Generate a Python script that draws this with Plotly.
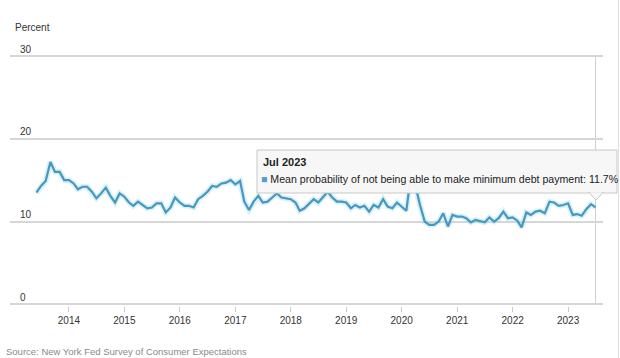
import pandas as pd
import plotly.graph_objects as go

start_month = "2013-06-01"
end_month = "2023-07-01"
values = [
    13.5, 14.3, 14.9, 17.2, 16.0, 16.0, 15.0,
    15.0, 14.6, 13.9, 14.2, 14.2, 13.6, 12.8, 13.4, 14.1, 13.1, 12.3, 13.4,
    13.0, 12.3, 11.9, 12.4, 12.0, 11.6, 11.7, 12.2, 12.2, 11.1, 11.7, 12.9,
    12.3, 11.9, 11.9, 11.7, 12.7, 13.1, 13.6, 14.3, 14.2, 14.6, 14.7, 15.0,
    14.5, 14.9, 12.4, 11.4, 12.4, 13.1, 12.3, 12.4, 12.9, 13.4, 12.9, 12.8,
    12.7, 12.3, 11.3, 11.6, 12.2, 12.7, 12.3, 13.0, 13.6, 12.9, 12.4, 12.4,
    12.3, 11.6, 12.0, 11.7, 11.9, 11.2, 12.0, 11.7, 12.7, 11.8, 11.6, 12.3,
    11.8, 11.3, 15.5, 14.3, 12.0, 10.0, 9.6, 9.6, 10.0, 11.0, 9.4, 10.8,
    10.6, 10.6, 10.4, 9.9, 10.2, 10.0, 9.9, 10.5, 10.0, 10.4, 11.2, 10.4,
    10.5, 10.1, 9.3, 11.1, 10.8, 11.2, 11.3, 11.0, 12.4, 12.3, 11.9, 12.0,
    12.2, 10.8, 10.9, 10.7, 11.5, 12.1, 11.7,
]
year_ticks = [f"{y}-01-01" for y in range(2014, 2024)]
year_labels = [str(y) for y in range(2014, 2024)]
y_ticks = [0, 10, 20, 30]
series_name = "Mean probability of not being able to make minimum debt payment"

dates = pd.date_range(start_month, end_month, freq="MS")

W, H = 620, 358
L, R, T, B = 10, 603, 40, 306   # plot area in pixels
Y30, Y0 = 56, 304.3              # pixel rows of the 30 and 0 gridlines
unit = (Y0 - Y30) / 30.0

def px(x): return (x - L) / (R - L)
def py(y): return (B - y) / (B - T)

fig = go.Figure()
fig.add_trace(go.Scatter(x=dates, y=values, mode="lines",
                         line=dict(color="rgba(150,220,240,0.40)", width=5.5),
                         hoverinfo="skip", showlegend=False))
fig.add_trace(go.Scatter(x=dates, y=values, mode="lines",
                         line=dict(color="#4a96bd", width=2.2),
                         hoverinfo="skip", showlegend=False))

last_date = dates[-1]
last_val = values[-1]

# crosshair
fig.add_shape(type="line", x0=last_date, x1=last_date, y0=0, y1=30,
              xref="x", yref="y", line=dict(color="#cfcfcf", width=1), layer="below")

# right border of the page
fig.add_shape(type="line", xref="paper", yref="paper",
              x0=px(618.5), x1=px(618.5), y0=py(358), y1=py(0),
              line=dict(color="#e0e0e0", width=1), layer="below")

# tooltip
fig.add_shape(type="rect", xref="paper", yref="paper",
              x0=px(257), x1=px(617), y0=py(193), y1=py(150),
              fillcolor="rgba(247,247,247,0.97)", line=dict(color="#c8c8c8", width=1),
              layer="above")
fig.add_shape(type="path", xref="paper", yref="paper",
              path=f"M {px(589)} {py(192.5)} L {px(596)} {py(200)} L {px(603)} {py(192.5)} Z",
              fillcolor="rgba(247,247,247,0.97)", line=dict(color="#c8c8c8", width=1),
              layer="above")
fig.add_shape(type="line", xref="paper", yref="paper",
              x0=px(590), x1=px(602), y0=py(193), y1=py(193),
              line=dict(color="rgb(247,247,247)", width=1.5), layer="above")

fig.add_annotation(xref="paper", yref="paper", x=px(261), y=py(162),
                   text="<b>" + last_date.strftime("%b %Y") + "</b>", showarrow=False,
                   xanchor="left", yanchor="middle",
                   font=dict(family="Liberation Sans, Arial", size=11, color="#222"))
fig.add_annotation(xref="paper", yref="paper", x=px(259), y=py(179),
                   text=f"<span style='color:#5b9bd5'>■</span> {series_name}: {last_val}%",
                   showarrow=False, xanchor="left", yanchor="middle",
                   font=dict(family="Liberation Sans, Arial", size=10.6, color="#222"))

fig.add_annotation(xref="paper", yref="paper", x=px(13), y=py(28), text="Percent",
                   showarrow=False, xanchor="left", yanchor="middle",
                   font=dict(family="Liberation Sans, Arial", size=10, color="#333"))
fig.add_annotation(xref="paper", yref="paper", x=px(4), y=py(351),
                   text="Source: New York Fed Survey of Consumer Expectations",
                   showarrow=False, xanchor="left", yanchor="middle",
                   font=dict(family="Liberation Sans, Arial", size=9.5, color="#8a8a8a"))

fig.update_layout(
    width=W, height=H,
    margin=dict(l=L, r=W - R, t=T, b=H - B, autoexpand=False),
    paper_bgcolor="white", plot_bgcolor="white",
    hovermode=False,
    font=dict(family="Liberation Sans, Arial", size=10, color="#333"),
    xaxis=dict(
        type="date",
        range=["2012-12-09", "2023-08-19"],
        tickvals=year_ticks, ticktext=year_labels,
        showgrid=False, zeroline=False,
        showline=False, automargin=False,
        ticks="outside", ticklen=5, tickcolor="#c8c8c8", tickwidth=1,
        tickfont=dict(size=10, color="#333"),
    ),
    yaxis=dict(
        range=[-(B - Y0) / unit, 30 + (Y30 - T) / unit], tickvals=y_ticks,
        showgrid=True, gridcolor="#d6d6d6", gridwidth=1.5,
        zeroline=False, showline=False, automargin=False,
        ticklabelposition="inside top", ticklabelstandoff=7,
        tickfont=dict(size=10, color="#333"),
    ),
)

fig.write_html("out.html", config={"displayModeBar": False},
               post_script="document.body.style.margin='0';")
